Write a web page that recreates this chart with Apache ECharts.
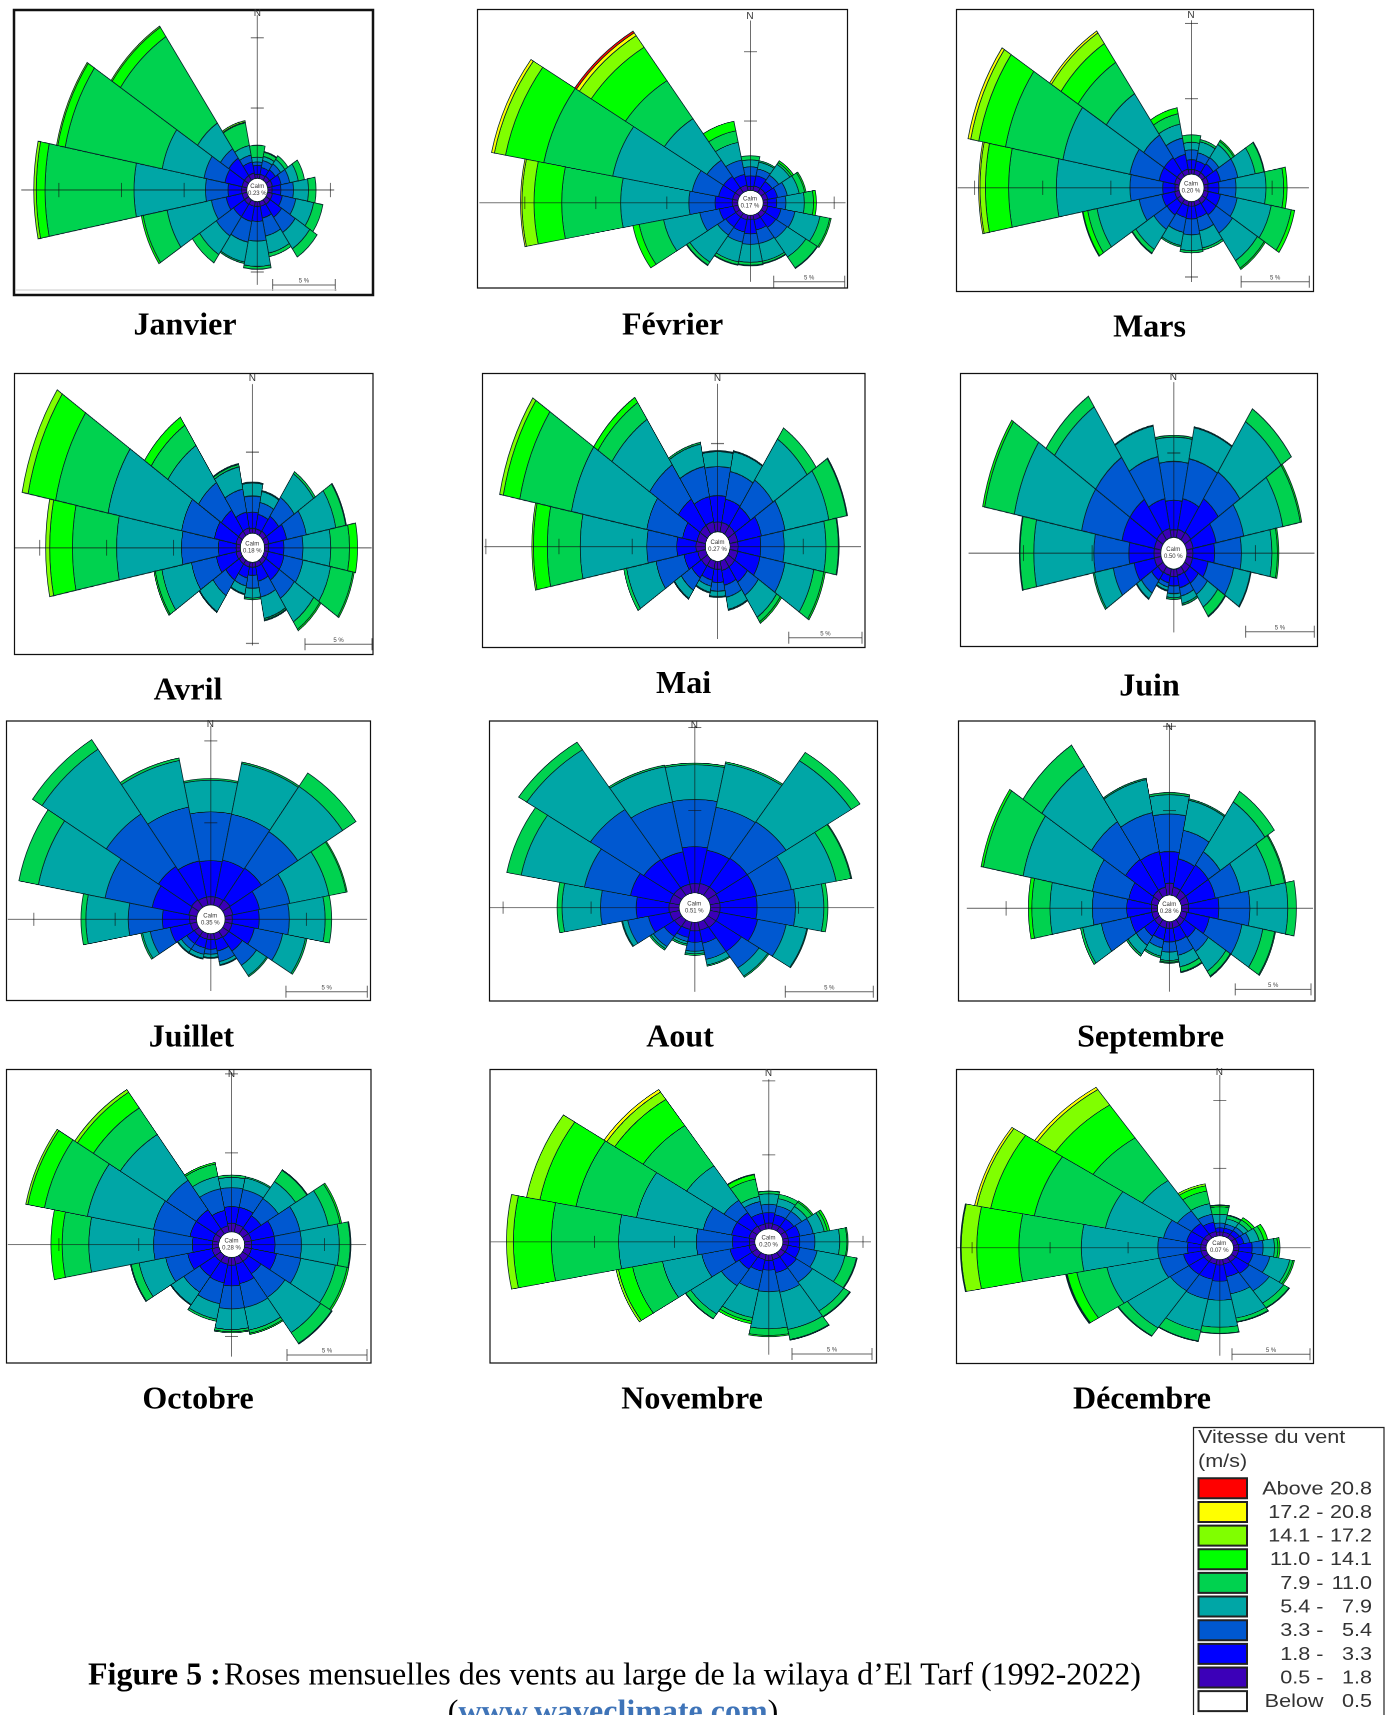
<!DOCTYPE html>
<html><head><meta charset="utf-8"><title>Roses mensuelles des vents</title>
<script src="https://cdn.jsdelivr.net/npm/echarts@6/dist/echarts.min.js"></script>
<style>html,body{margin:0;padding:0;background:#fff;overflow:hidden}#page{position:relative;width:1389px;height:1715px;overflow:hidden}
.layer{position:absolute}</style></head>
<body><div id="page"><div id="base" class="layer" style="left:0;top:0;width:1389px;height:1715px"></div></div>
<script>
const directions=['N','NNE','NE','ENE','E','ESE','SE','SSE','S','SSW','SW','WSW','W','WNW','NW','NNW'];
const speedClasses=['0.5 - 1.8','1.8 - 3.3','3.3 - 5.4','5.4 - 7.9','7.9 - 11.0','11.0 - 14.1','14.1 - 17.2','17.2 - 20.8','Above 20.8'];
const classColors=['#3c00b8','#0000ff','#0058d0','#00a6a6','#00d24f','#00ff00','#80ff00','#ffff00','#ff0000'];
// cumulative frequency (%) at the top of each speed class, one row per direction (N clockwise)
const janvier=[[.28,.92,1.16,1.5,2.35],[.3,.8,1.3,1.6,1.9,1.95],[.35,.9,1.4,1.8,2.1],[.4,1.1,1.8,2.5,3.0],[.35,1.05,2.05,3.25,3.85],[.4,1.2,2.3,3.75,4.5],[.4,1.5,2.8,4.2,4.9],[.35,1.2,2.5,3.75,4.0],[.33,1.4,2.8,4.6,4.8],[.35,1.45,2.95,4.4,4.5],[.4,1.45,3.1,4.7,5.4],[.4,1.7,2.9,6.5,8.45,8.6],[.42,1.5,3.3,9.0,16.1,16.8,17],[.4,1.8,3.5,6.9,14.8,15.4,15.5],[.4,1.9,2.7,4.9,12.3,13.1,13.2],[.4,1.2,1.7,2.4,4.05,4.1,4.2]];
const fevrier=[[.3,1.05,1.7,2.2,2.5],[.35,1.1,1.6,2.1,2.2],[.35,.95,1.5,2.45,2.6,2.75],[.35,1.05,1.75,2.6,3.0,3.1],[.3,.95,1.6,2.9,3.55,3.75],[.35,1.3,2.3,4.1,4.8,4.9],[.35,1.25,2.2,3.8,4.75,4.8],[.35,1.1,2.1,3.4,3.55,3.6],[.3,1.35,2.1,3.4,3.6,3.65],[.35,1.25,2,3.45,3.65,3.7],[.35,1.2,1.9,4.25,4.5,4.55],[.35,1.35,2.75,5.35,7.1,7.55],[.4,1.6,3.45,8.25,12.4,14.35,15.2,15.3],[.4,1.4,3.3,9,13.95,16.7,17.5,17.7],[.4,1.4,2.8,6.4,9.7,12.6,13.6,13.85,14],[.4,1.2,2.25,3.55,4.4,5.1]];
const mars=[[.3,.95,1.6,2.1,2.6],[.3,.9,1.45,2.2,2.35],[.3,1,1.5,2.55,2.8,2.9],[.35,1.25,2.55,3.85,4.5,4.55],[.3,1.1,2.35,4.55,5.85,6.1],[.35,1.25,2.5,5.05,6.55,6.8],[.35,1.25,2.7,4.9,5.5,5.6],[.3,1.1,2,3.15,3.3],[.3,1.15,2.2,3.25,3.4],[.3,1.1,2.1,3.0,3.1],[.35,1.25,2.4,4.0,4.3,4.35],[.35,1.3,3,6.15,6.85,7.2,7.25],[.3,1.2,3.6,9,12.5,14.2,14.6,14.7],[.35,1.5,3.7,8.7,13,15,15.6,15.8],[.35,1.5,3.3,6.6,9.1,10.6,11.45,11.6],[.35,1.35,2.45,3.4,4.1,4.5]];
const avril=[[.3,1.3,2.3,3.1,3.15],[.3,1.2,1.95,2.65,2.7],[.35,1.45,2.85,4.6,4.75],[.35,1.7,3.2,5.45,6.2,6.25],[.3,1.45,2.87,4.95,6.35,6.95],[.3,1.5,2.95,5.05,6.75,6.85],[.3,1.5,2.85,4.6,5.15,5.25],[.3,1.2,2.2,3.55,3.65,3.7],[.3,.8,1.6,2.2,2.3],[.3,1,1.5,2,2.05],[.3,1.5,2.65,3.85,3.9],[.35,1.85,3.75,6,6.5,6.6],[.33,1.64,4.4,9.25,12.55,14.25,14.55],[.35,2,4.5,10.1,14.1,16.2,16.65],[.35,1.9,3.95,6.7,8.2,8.8],[.35,1.35,2.8,4.2,4.35,4.4]];
const mai=[[.55,2.05,3.7,4.55,4.6],[.55,1.9,3.5,4.65,4.7],[.55,1.85,3.7,6.5,7.25],[.55,2.2,3.85,6.9,8.15,8.2],[.55,2.1,3.7,6.55,7.4,7.45],[.55,2.1,3.85,5.85,6.55,6.65],[.55,1.6,2.5,4,4.3,4.4],[.55,1.4,2.1,2.8,2.85],[.45,1.2,1.7,2,2.05],[.45,1.1,1.45,1.8,1.85],[.5,1.3,2.15,2.7,2.75],[.55,1.5,3.45,5.5,5.7],[.65,1.95,4,8.55,10.8,11.75,11.85],[.6,1.6,4.1,9.35,12.95,14.1,14.35],[.6,2.4,4.75,7.85,9,9.35],[.6,2.05,3.8,5.1,5.2]];
const juin=[[.45,2.2,4.5,5.95,6.05],[.5,2.35,4.77,6.65,6.7],[.55,2.95,4.85,8.45,9.35],[.5,2.2,4.25,7.15,8.45,8.55],[.45,2.03,3.98,6.2,6.6,6.7],[.45,1.6,3.5,4.75,4.8],[.45,1.2,2,2.9,3.55,3.6],[.4,1.15,1.65,2.1,2.2],[.45,1,1.45,1.7,1.8],[.4,.85,1.1,1.3,1.35],[.45,1,1.9,2.3,2.35],[.5,2,3.55,4.95,5.05],[.5,2.33,4.88,9.25,10.25,10.3],[.5,2.9,5.9,10.9,13.1,13.25],[.55,2.9,5.9,9.5,10.25],[.55,2.35,4.9,6.75,6.8]];
const juillet=[[.5,2.7,5.67,7.6,7.7],[.5,2.8,5.65,8.8,8.9],[.55,2.87,5.55,8.87,9.85],[.5,2.18,4.08,6.53,7.6,7.67],[.45,2.1,3.95,6.15,6.55],[.45,1.85,3.63,5.05,5.15],[.45,1.45,2.5,3.25,3.33],[.4,1.1,1.75,1.95,2],[.35,.95,1.25,1.45,1.5],[.35,.9,1.3,1.55,1.6],[.35,.9,1.3,1.55,1.6],[.4,1.67,2.92,3.4,3.5],[.43,2.1,4.2,6.8,7.1],[.5,2.8,5.75,9.93,11.15],[.55,3,6.85,11.6,12.3],[.5,2.75,6.1,9,9.15]];
const aout=[[.56,2.8,5.65,7.75,7.85],[.6,2.65,5.3,8,8.1],[.6,2.7,5.35,9.8,10.4],[.55,2.7,4.7,7.3,8.15,8.2],[.55,2.65,4.83,6.44,6.67],[.55,2.75,4.4,5.6,5.65],[.55,2.3,3.5,4.1,4.18],[.5,1.3,2.3,2.65,2.72],[.52,1.2,1.75,1.9,2],[.45,.95,1.2,1.35,1.45],[.5,1.2,1.95,2.1,2.2],[.55,1.8,3,3.3,3.35],[.58,2.44,4.47,6.65,6.93],[.55,2.84,5.5,9.17,10],[.55,2.6,6.25,10.6,11.15],[.55,2.55,5.63,7.8,7.9]];
const septembre=[[.7,2.58,4.8,5.95,6.07],[.5,2.2,3.93,5.75,5.83],[.5,2.3,3.25,6.8,7.55],[.5,2.3,4,6.07,6.97,7.04],[.48,2.48,4.53,7.03,7.6],[.4,1.9,4.1,5.5,6.3,6.36],[.4,1.3,2.3,3.7,4.05,4.1],[.4,1.2,2.05,2.75,3.05,3.1],[.4,1.2,1.8,2.3,2.4,2.46],[.4,1.1,1.6,2.1,2.2],[.4,1.2,1.85,2.5,2.62],[.4,1.85,3.8,5.05,5.2],[.4,2.03,4.3,7.1,8.3,8.53],[.45,1.95,4.4,9.07,11.75,11.9],[.5,2.7,5.4,9.35,10.85],[.5,2.64,5,7,7.08]];
const octobre=[[.55,1.6,2.8,3.45,3.6],[.5,1.6,2.75,3.5,3.58],[.45,1.4,2.7,4,4.85,4.9],[.45,1.9,3.55,5.35,6.1,6.2],[.45,1.9,3.55,5.92,6.6,6.65],[.45,2.05,3.6,5.8,6.55,6.66],[.45,1.4,3.2,5.88,6.7,6.75],[.45,1.7,3.25,4.7,4.9,4.98],[.5,1.8,3.25,4.55,4.7,4.76],[.45,1.65,3,4,4.13],[.45,1.6,2.8,3.75,3.8],[.45,2,3.4,5.1,5.6,5.65],[.4,1.65,4.08,8.13,9.8,10.5],[.4,1.85,4.18,8.4,11.14,12.2,12.33],[.4,1.85,4.1,7.58,9.6,10.8,11],[.4,1.4,2.8,3.6,4.4,4.5]];
const novembre=[[.4,1.1,1.66,2.37,2.55,2.57],[.35,1,1.6,2.1,2.4],[.35,1,1.6,2,2.35,2.45],[.35,1.1,1.95,2.65,2.85,3],[.35,1.05,2,3.55,4,4.07],[.35,1.1,2.2,3.97,4.7,4.75],[.35,1.2,2.4,4.75,5.2,5.25],[.35,1.25,2.6,5.16,5.85,5.9],[.4,1.04,2.5,5,5.45,5.54],[.35,1.15,2.45,4.35,4.6,4.77],[.4,1.35,2.7,5,5.37,5.4],[.4,1.6,3.4,5.9,7.8,8.7,8.85],[.35,1.4,3.65,8.5,12.7,15.07,15.5],[.4,1.5,3.3,7.55,11.4,13.7,14.55],[.4,1.5,2.5,5.3,8.57,10.7,11.3,11.5],[.35,1.1,1.9,2.25,3.45,3.75,3.8]];
const decembre=[[.3,.6,.95,1.6,2.15,2.25,2.3],[.3,.6,.9,1.3,1.55,1.6],[.3,.65,.95,1.3,1.6,1.8],[.3,.7,1.1,1.7,2,2.25],[.35,1.2,1.9,2.63,2.85,2.98],[.35,1.3,2.4,3.7,3.9,4],[.35,1.4,2.95,4.05,4.45,4.5],[.35,1.3,2.6,4.43,4.7,4.75],[.4,1.6,3,5,5.45,5.48],[.35,1.5,3,5.35,6.15,6.2],[.35,1.5,2.95,6.25,6.95,7],[.35,1.5,3.07,6.5,8.47,9.1,9.15,9.2],[.35,1.2,3.1,8,12,14.7,15.7,15.75],[.35,1.3,2.8,6.6,11.25,14.1,15,15.15],[.35,1.3,2.4,5.1,8.9,11.83,13.2,13.4],[.35,1.05,1.65,2.45,3.4,3.8,3.95]];
const calmValues=['0.23 %','0.17 %','0.20 %','0.18 %','0.27 %','0.50 %','0.35 %','0.51 %','0.28 %','0.28 %','0.20 %','0.07 %'];
// axis reach in % for N, E, S, W, and tick values on each of those axes
const axisEnds=[[11.6,5.3,5.9,18],[12.25,5.8,4.8,18.2],[10.2,7.7,5.33,16.25],[9.2,8,5.13,16.85],[8.4,8.95,4.4,15.1],[9.2,9.3,3.75,14],[10.9,8.73,3.5,11.6],[10.1,9.3,4.2,10.75],[10.1,8.7,4.15,12.6],[10.1,7.6,6.27,13.2],[10.1,5.5,6.75,16.5],[11.9,4.94,7.1,16]];
const axisTicks=[[[5,10],[5],[5],[5,10,15]],[[5,10],[5],[],[5,10,15]],[[5,10],[5],[5],[5,10,15]],[[5],[],[5],[5,10,15]],[[5],[5],[],[5,10,15]],[[5],[5],[],[5,10]],[[5,10],[5],[],[5,10]],[[5,10],[5],[],[5,10]],[[5,10],[5],[],[5,10]],[[5,10],[5],[5],[5,10]],[[5,10],[5],[],[5,10]],[[5,10],[],[],[5,10,15]]];
const legendLow=['Above','17.2 -','14.1 -','11.0 -','7.9 -','5.4 -','3.3 -','1.8 -','0.5 -','Below'];
const legendHigh=['20.8','20.8','17.2','14.1','11.0','7.9','5.4','3.3','1.8','0.5'];
const legendColors=['#ff0000','#ffff00','#80ff00','#00ff00','#00d24f','#00a6a6','#0058d0','#0000ff','#3c00b8','#ffffff'];

// layout of each panel on the page
const panels=[
 {name:'Janvier',data:janvier,f:[14,10,373,295],c:[257.3,190],kx:12.53,ky:14.05,h:10.5,bar:[335.3,285],ny:13,t:[185,326],w:2.5},
 {name:'Février',data:fevrier,f:[477.5,9.5,847.5,288],c:[750,202.3],kx:14.2,ky:13.87,h:12.7,bar:[844.7,281.7],ny:16,t:[672.6,326]},
 {name:'Mars',data:mars,f:[956.5,9.5,1313.5,291.5],c:[1191,187.3],kx:13.63,ky:15.07,h:12.5,bar:[1309.3,281.7],ny:15,t:[1149.5,328]},
 {name:'Avril',data:avril,f:[14.5,373.5,373,654.5],c:[252.3,547.3],kx:13.4,ky:16.2,h:12.1,bar:[372,644.3],ny:378,t:[188,691]},
 {name:'Mai',data:mai,f:[482.5,373.5,865,647.5],c:[717.5,546],kx:14.65,ky:17.6,h:12.4,bar:[862,637.7],ny:378,t:[683.6,684.6]},
 {name:'Juin',data:juin,f:[960.5,373.5,1317.5,646.5],c:[1173.3,552.7],kx:13.73,ky:16.86,h:13,bar:[1314.3,631.7],ny:377,t:[1149.5,687]},
 {name:'Juillet',data:juillet,f:[6.5,721,370.5,1000.5],c:[210.3,919.3],kx:16.27,ky:16.4,h:14.3,bar:[367.3,991.7],ny:724,t:[191.4,1038]},
 {name:'Aout',data:aout,f:[489.5,721,877.5,1001],c:[694.3,907.3],kx:17.6,ky:16.5,h:15.7,bar:[873.3,991.7],ny:725,t:[680,1038]},
 {name:'Septembre',data:septembre,f:[958.5,721,1315,1001],c:[1169.2,907.6],kx:15.15,ky:16.8,h:12,bar:[1311,989.4],ny:727,t:[1150.6,1038]},
 {name:'Octobre',data:octobre,f:[6.5,1069.5,371,1363],c:[231.5,1244.2],kx:16,ky:15.8,h:13,bar:[367,1355],ny:1074,t:[198,1400]},
 {name:'Novembre',data:novembre,f:[490,1069.5,876.5,1363],c:[768.5,1241.3],kx:16,ky:14.8,h:14,bar:[872,1354],ny:1073,t:[692,1400]},
 {name:'Décembre',data:decembre,f:[956.5,1069.5,1313.5,1363.5],c:[1219.3,1247],kx:15.6,ky:13.5,h:13.7,bar:[1310,1354.3],ny:1072,t:[1142,1400]}
];
const SANS='"Liberation Sans",Arial,sans-serif', SERIF='"Liberation Serif","Times New Roman",serif';
const MAXR=25;
const page=document.getElementById('page');

function classSeries(rows){
  return classColors.map((color,k)=>({
    type:'bar',coordinateSystem:'polar',stack:'wind',name:speedClasses[k],barCategoryGap:'0%',
    silent:true,itemStyle:{color,borderColor:'#06262a',borderWidth:.8},
    data:rows.map(r=>k<r.length?+(r[k]-(k?r[k-1]:0)).toFixed(3):null)
  }));
}
function crossSeries(i){
  const dirIdx=[0,4,8,12],items=[];
  axisEnds[i].forEach((e,a)=>{items.push([e,dirIdx[a],0]);axisTicks[i][a].forEach(t=>items.push([t,dirIdx[a],1]));});
  return {type:'custom',coordinateSystem:'polar',silent:true,z:10,data:items,
    renderItem(params,api){
      const v=api.value(0),d=api.value(1),kind=api.value(2);
      const p=api.coord([v,d]),o=api.coord([0,d]);
      const st={stroke:'rgba(20,20,20,.62)',lineWidth:1};
      if(!kind) return {type:'line',shape:{x1:o[0],y1:o[1],x2:p[0],y2:p[1]},style:st};
      const dx=p[0]-o[0],dy=p[1]-o[1],l=Math.hypot(dx,dy)||1,nx=-dy/l*6.5,ny=dx/l*6.5;
      return {type:'line',shape:{x1:p[0]-nx,y1:p[1]-ny,x2:p[0]+nx,y2:p[1]+ny},style:st};
    }};
}
panels.forEach((p,i)=>{
  const [x0,y0,x1,y1]=p.f,ratio=p.ky/p.kx,w=x1-x0,h=(y1-y0)/ratio;
  const d=document.createElement('div');d.className='layer';
  d.style.cssText=`left:${x0}px;top:${y0}px;width:${w}px;height:${h}px;transform-origin:0 0;transform:scaleY(${ratio})`;
  page.appendChild(d);
  const ch=echarts.init(d,null,{devicePixelRatio:2,width:w,height:h});
  ch.setOption({animation:false,backgroundColor:'transparent',
    polar:{center:[p.c[0]-x0,(p.c[1]-y0)/ratio],radius:[p.h,p.h+MAXR*p.kx]},
    angleAxis:{type:'category',data:directions,startAngle:101.25,clockwise:true,boundaryGap:true,axisLine:{show:false},axisTick:{show:false},axisLabel:{show:false},splitLine:{show:false}},
    radiusAxis:{type:'value',min:0,max:MAXR,axisLine:{show:false},axisTick:{show:false},axisLabel:{show:false},splitLine:{show:false}},
    tooltip:{show:false},
    series:[...classSeries(p.data),crossSeries(i)]});
});

// page furniture: frames, month names, scale bars, calm labels, legend, caption
const els=[];
const ln=(x1,y1,x2,y2,c,w)=>els.push({type:'line',silent:true,shape:{x1,y1,x2,y2},style:{stroke:c,lineWidth:w}});
const txt=(x,y,text,font,fill,align,sx)=>els.push({type:'text',silent:true,x,y,scaleX:sx||1,style:{text,font,fill:fill||'#000',align:align||'center',verticalAlign:'middle'}});
panels.forEach((p,i)=>{
  const [x0,y0,x1,y1]=p.f;
  els.push({type:'rect',silent:true,shape:{x:x0,y:y0,width:x1-x0,height:y1-y0},style:{fill:'#fff',stroke:'#111',lineWidth:p.w||1.2}});
  txt(p.t[0],p.t[1],p.name,'bold 32px '+SERIF);
  txt(p.c[0],p.ny,'N','10px '+SANS,'#333');
  txt(p.c[0],p.c[1]-3.5,'Calm','6px '+SANS,'#333');
  txt(p.c[0],p.c[1]+3.5,calmValues[i],'6px '+SANS,'#333');
  const bx=p.bar[0],by=p.bar[1],bl=5*p.kx;
  ln(bx-bl,by,bx,by,'rgba(60,60,60,.8)',1);ln(bx-bl,by-6,bx-bl,by+6,'rgba(60,60,60,.8)',1);ln(bx,by-6,bx,by+6,'rgba(60,60,60,.8)',1);
  txt(bx-bl/2,by-4,'5 %','6px '+SANS,'#444');
});
ln(16,290,337,290,'#ccc',1);
els.push({type:'rect',silent:true,shape:{x:1193.5,y:1427.5,width:190.5,height:300},style:{fill:'#fff',stroke:'#222',lineWidth:1.2}});
txt(1198,1438,'Vitesse du vent','18px '+SANS,'#333','left',1.2);
txt(1198,1462,'(m/s)','18px '+SANS,'#333','left',1.2);
legendLow.forEach((t,i)=>{
  const y=1478.3+i*23.65;
  els.push({type:'rect',silent:true,shape:{x:1198.5,y,width:48.5,height:20},style:{fill:legendColors[i],stroke:'#222',lineWidth:2}});
  txt(1323.5,y+11,t,'18px '+SANS,'#333','right',1.2);
  txt(1372,y+11,legendHigh[i],'18px '+SANS,'#333','right',1.2);
});
els.push({type:'text',silent:true,x:88,y:1676,style:{text:'{b|Figure 5 :} {n|Roses mensuelles des vents au large de la wilaya d’El Tarf (1992-2022)}',verticalAlign:'middle',align:'left',rich:{b:{font:'bold 32px '+SERIF,fill:'#000'},n:{font:'32px '+SERIF,fill:'#000'}}}});
els.push({type:'text',silent:true,x:613,y:1713,style:{text:'{n|(}{l|www.waveclimate.com}{n|)}',verticalAlign:'middle',align:'center',rich:{l:{font:'bold 32px '+SERIF,fill:'#3f74b8'},n:{font:'32px '+SERIF,fill:'#000'}}}});
const base=echarts.init(document.getElementById('base'),null,{devicePixelRatio:2});
base.setOption({animation:false,graphic:{elements:els}});
</script></body></html>
